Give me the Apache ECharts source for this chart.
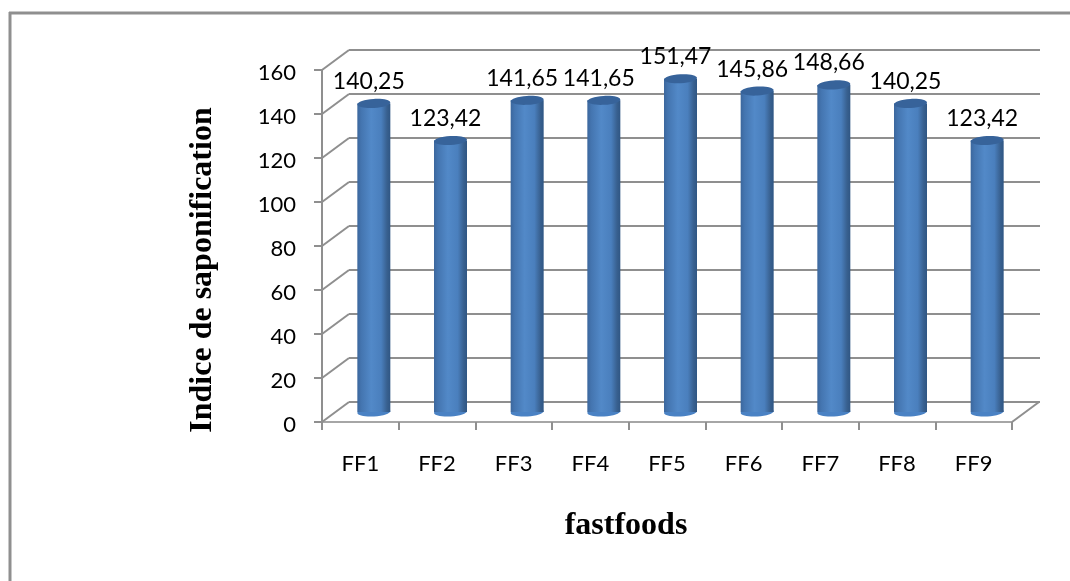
<!DOCTYPE html>
<html>
<head>
<meta charset="utf-8">
<title>Indice de saponification</title>
<script src="https://cdn.jsdelivr.net/npm/echarts@6/dist/echarts.min.js"></script>
<style>
html,body{margin:0;padding:0;background:#fff}
#chart{width:1070px;height:581px}
</style>
</head>
<body>
<div id="chart"></div>
<script>
const categories = ['FF1','FF2','FF3','FF4','FF5','FF6','FF7','FF8','FF9'];
const values = [140.25,123.42,141.65,141.65,151.47,145.86,148.66,140.25,123.42];
const gridTicks = [0,20,40,60,80,100,120,140,160];
const yTitle = 'Indice de saponification';
const xTitle = 'fastfoods';

const GRAY = '#8f8f8f';
const SANS = 'Lato, sans-serif';
const SERIF = '"Liberation Serif", serif';

// The 3D look: the back wall sits up and to the right of the front axes.
const DEPTH_X = 27, DEPTH_Y = -20;
const BAR_RX = 16.5, BAR_RY = 4.5;

const bodyFill = {
  type: 'linear', x: 0, y: 0, x2: 1, y2: 0,
  colorStops: [
    {offset: 0, color: '#3c679d'},
    {offset: 0.12, color: '#4475b0'},
    {offset: 0.42, color: '#5289c8'},
    {offset: 0.72, color: '#4a7fbd'},
    {offset: 0.9, color: '#38608f'},
    {offset: 1, color: '#2f5684'}
  ]
};

function renderCylinder(params, api) {
  const top = api.coord([api.value(0), api.value(1)]);
  const base = api.coord([api.value(0), 0]);
  const cx = top[0] + DEPTH_X / 2;
  const yTop = top[1] + DEPTH_Y / 2;
  const yBase = base[1] + DEPTH_Y / 2;
  const label = values[params.dataIndex].toFixed(2).replace('.', ',');
  return {
    type: 'group',
    children: [
      {type: 'ellipse', shape: {cx: cx, cy: yBase, rx: BAR_RX, ry: BAR_RY},
       originX: cx, originY: yBase, rotation: 0.06, style: {fill: '#4a82c4'}},
      {type: 'rect', shape: {x: cx - BAR_RX, y: yTop, width: BAR_RX * 2, height: yBase - yTop},
       style: {fill: bodyFill}},
      {type: 'ellipse', shape: {cx: cx, cy: yTop, rx: BAR_RX, ry: BAR_RY},
       originX: cx, originY: yTop, rotation: 0.06, style: {fill: '#37639a'}},
      {type: 'text', style: {
        text: label, x: cx - 5, y: yTop - 22, align: 'center', verticalAlign: 'middle',
        fill: '#000', font: '23px ' + SANS
      }}
    ]
  };
}

// Slanted joins from each front tick to the matching wall line.
function renderJoin(params, api) {
  const v = api.value(0);
  const y = api.coord([0, v])[1];
  const x = params.coordSys.x;
  const line = (x1, y1, x2, y2) => ({
    type: 'line', shape: {x1, y1, x2, y2},
    style: {stroke: GRAY, lineWidth: 2}
  });
  const children = [line(x, y, x + DEPTH_X, y + DEPTH_Y)];
  if (v === 0) {
    const xr = x + params.coordSys.width;
    children.push(line(xr, y, xr + DEPTH_X, y + DEPTH_Y));
  }
  return {type: 'group', children};
}

const chart = echarts.init(document.getElementById('chart'), null, {renderer: 'canvas'});
chart.setOption({
  animation: false,
  backgroundColor: '#fff',
  grid: [
    {left: 322, right: 58, top: 70, bottom: 159},
    {left: 349, right: 30, top: 50, bottom: 179}
  ],
  xAxis: [
    {
      type: 'category', data: categories, gridIndex: 0,
      axisLine: {lineStyle: {color: '#a6a6a6', width: 2}},
      axisTick: {show: true, length: 8, alignWithLabel: false, lineStyle: {color: GRAY, width: 2}},
      axisLabel: {color: '#000', fontFamily: SANS, fontSize: 22, margin: 31},
      splitLine: {show: false}
    },
    {type: 'category', data: categories, gridIndex: 1, show: false}
  ],
  yAxis: [
    {
      type: 'value', gridIndex: 0, min: 0, max: 160, interval: 20,
      axisLine: {show: true, lineStyle: {color: GRAY, width: 2}},
      axisTick: {show: true, length: 8, lineStyle: {color: GRAY, width: 2}},
      axisLabel: {color: '#000', fontFamily: SANS, fontSize: 22, margin: 26,
                  verticalAlign: 'top', lineHeight: 6},
      splitLine: {show: false}
    },
    {
      type: 'value', gridIndex: 1, min: 0, max: 160, interval: 20,
      axisLine: {show: false}, axisTick: {show: false}, axisLabel: {show: false},
      splitLine: {show: true, lineStyle: {color: GRAY, width: 2}}
    }
  ],
  series: [
    {
      name: 'joins', type: 'custom', xAxisIndex: 0, yAxisIndex: 0, z: 1, silent: true,
      data: gridTicks.map(t => [t]), encode: {y: 0}, renderItem: renderJoin
    },
    {
      name: yTitle, type: 'custom', xAxisIndex: 0, yAxisIndex: 0, z: 5, silent: true,
      data: values.map((v, i) => [i, v]), encode: {x: 0, y: 1}, renderItem: renderCylinder
    }
  ],
  graphic: [
    {type: 'line', shape: {x1: 9, y1: 13, x2: 1070, y2: 13}, style: {stroke: GRAY, lineWidth: 3}, silent: true},
    {type: 'line', shape: {x1: 10, y1: 12, x2: 10, y2: 581}, style: {stroke: GRAY, lineWidth: 3}, silent: true},
    {type: 'text', x: 203, y: 270, rotation: Math.PI / 2, silent: true,
     style: {text: yTitle, align: 'center', verticalAlign: 'middle', fill: '#000',
             font: 'bold 32px ' + SERIF}},
    {type: 'text', x: 626, y: 526, silent: true,
     style: {text: xTitle, align: 'center', verticalAlign: 'middle', fill: '#000',
             font: 'bold 32px ' + SERIF}}
  ]
});
</script>
</body>
</html>
